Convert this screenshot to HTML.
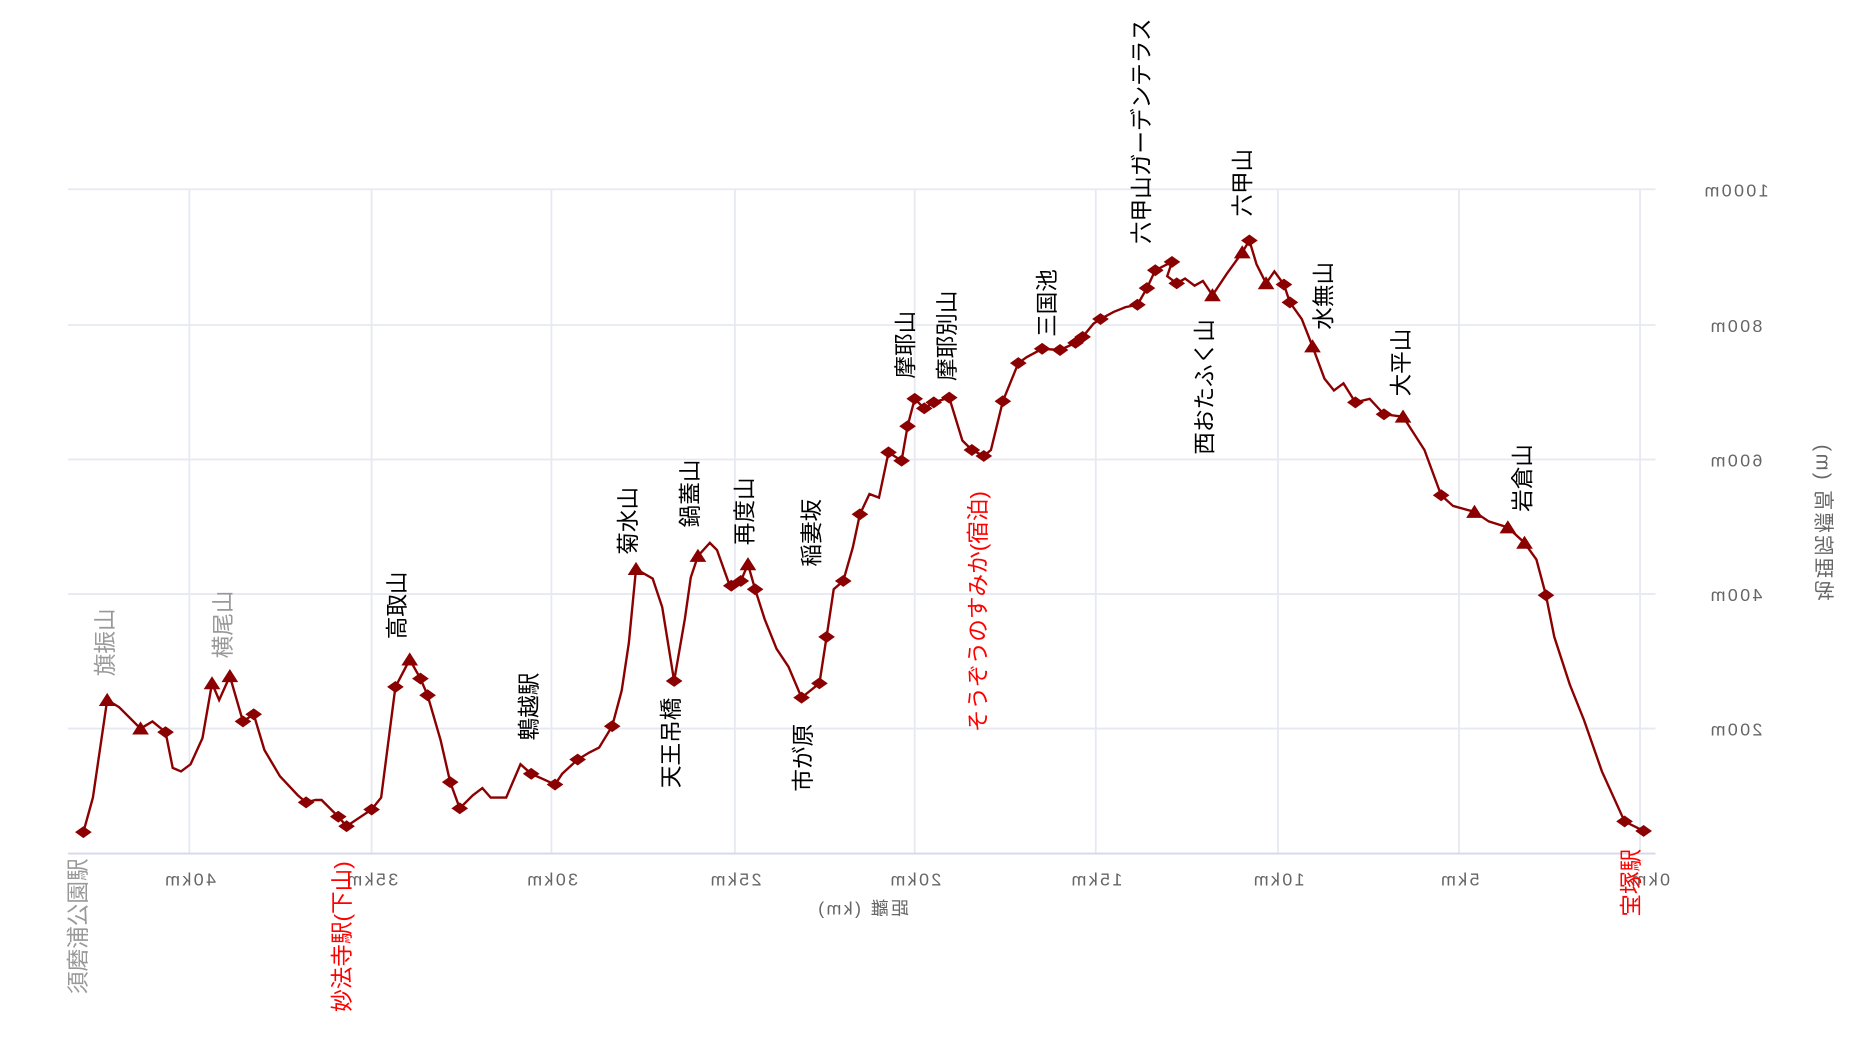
<!DOCTYPE html>
<html><head><meta charset="utf-8"><style>
html,body{margin:0;padding:0;background:#fff;}
svg{display:block;}
text{font-family:"Liberation Sans","Noto Sans CJK JP",sans-serif;}
</style></head><body>
<svg width="1858" height="1050" viewBox="0 0 1560 882" preserveAspectRatio="none" xmlns="http://www.w3.org/2000/svg">
<g stroke="#e6e9f1" stroke-width="1.5">
<line x1="57" y1="159" x2="1390" y2="159"/><line x1="57" y1="273" x2="1390" y2="273"/><line x1="57" y1="386" x2="1390" y2="386"/><line x1="57" y1="499" x2="1390" y2="499"/><line x1="57" y1="612" x2="1390" y2="612"/>
<line x1="159" y1="159" x2="159" y2="717"/><line x1="312" y1="159" x2="312" y2="717"/><line x1="463" y1="159" x2="463" y2="717"/><line x1="617" y1="159" x2="617" y2="717"/><line x1="768" y1="159" x2="768" y2="717"/><line x1="920" y1="159" x2="920" y2="717"/><line x1="1073" y1="159" x2="1073" y2="717"/><line x1="1225" y1="159" x2="1225" y2="717"/><line x1="1377" y1="159" x2="1377" y2="717"/>
</g>
<line x1="57" y1="717" x2="1390" y2="717" stroke="#d3d9e8" stroke-width="1.5"/>
<g fill="#666" font-size="15" letter-spacing="2" text-anchor="middle">
<text transform="translate(159,744) scale(-1,1)">40km</text>
<text transform="translate(312,744) scale(-1,1)">35km</text>
<text transform="translate(463,744) scale(-1,1)">30km</text>
<text transform="translate(617,744) scale(-1,1)">25km</text>
<text transform="translate(768,744) scale(-1,1)">20km</text>
<text transform="translate(920,744) scale(-1,1)">15km</text>
<text transform="translate(1073,744) scale(-1,1)">10km</text>
<text transform="translate(1225,744) scale(-1,1)">5km</text>
<text transform="translate(1385,744) scale(-1,1)">0km</text>
<text transform="translate(1457,165) scale(-1,1)">1000m</text>
<text transform="translate(1457,279) scale(-1,1)">800m</text>
<text transform="translate(1457,392) scale(-1,1)">600m</text>
<text transform="translate(1457,505) scale(-1,1)">400m</text>
<text transform="translate(1457,618) scale(-1,1)">200m</text>
<text transform="translate(724,768) scale(-1,1)">距離 (km)</text>
<text transform="translate(1525,438) scale(-1,1) rotate(-90)" font-size="17">地理院標高 (m)</text>
</g>
<polyline fill="none" stroke="#8b0000" stroke-width="2" points="70,699 78,670 90,588 100,594 118,612 128,606 139,615 145,645 152,648 160,642 170,620 178,574 184,588 193,568 204,606 213,600 222,630 235,652 250,668 257,674 265,672 270,672 284,686 291,694 312,680 320,670 332,577 344,554 353,570 359,584 370,622 378,657 386,679 397,668 405,662 412,670 425,670 437,642 446,650 455,654 466,659 472,650 485,638 495,632 503,628 514,610 522,580 528,540 534,478 548,486 556,510 566,572 575,520 580,485 586,467 596,456 602,462 612,490 614,492 622,488 628,474 634,495 642,520 652,545 662,560 673,586 688,574 694,535 700,495 708,488 716,460 722,432 730,415 738,418 746,380 757,387 762,358 768,335 776,343 784,338 797,334 808,370 816,378 826,383 832,378 842,337 855,305 862,300 875,293 890,294 903,288 909,283 918,272 924,268 935,262 945,258 955,256 963,242 970,227 984,220 980,232 988,238 995,234 1003,240 1010,236 1018,248 1030,230 1043,212 1049,202 1055,222 1063,238 1070,228 1078,239 1083,254 1093,268 1102,291 1112,318 1120,328 1128,322 1138,338 1150,335 1162,348 1178,350 1196,378 1210,416 1220,425 1238,430 1250,438 1266,443 1280,456 1290,470 1298,500 1305,535 1318,575 1330,605 1345,648 1364,690 1380,698"/>
<defs>
<path id="d" d="M-7,0 L0,-5 L7,0 L0,5Z" fill="#8b0000"/>
<path id="t" d="M-7,5 L0,-6 L7,5Z" fill="#8b0000"/>
</defs>
<g>
<use href="#d" x="70" y="699"/><use href="#t" x="90" y="588"/><use href="#t" x="118" y="612"/><use href="#d" x="139" y="615"/><use href="#t" x="178" y="574"/><use href="#t" x="193" y="568"/><use href="#d" x="204" y="606"/><use href="#d" x="213" y="600"/><use href="#d" x="257" y="674"/><use href="#d" x="284" y="686"/><use href="#d" x="291" y="694"/><use href="#d" x="312" y="680"/><use href="#d" x="332" y="577"/><use href="#t" x="344" y="554"/><use href="#d" x="353" y="570"/><use href="#d" x="359" y="584"/><use href="#d" x="378" y="657"/><use href="#d" x="386" y="679"/><use href="#d" x="446" y="650"/><use href="#d" x="466" y="659"/><use href="#d" x="485" y="638"/><use href="#d" x="514" y="610"/><use href="#t" x="534" y="478"/><use href="#d" x="566" y="572"/><use href="#t" x="586" y="467"/><use href="#d" x="614" y="492"/><use href="#d" x="622" y="488"/><use href="#t" x="628" y="474"/><use href="#d" x="634" y="495"/><use href="#d" x="673" y="586"/><use href="#d" x="688" y="574"/><use href="#d" x="694" y="535"/><use href="#d" x="708" y="488"/><use href="#d" x="722" y="432"/><use href="#d" x="746" y="380"/><use href="#d" x="757" y="387"/><use href="#d" x="762" y="358"/><use href="#d" x="768" y="335"/><use href="#d" x="776" y="343"/><use href="#d" x="784" y="338"/><use href="#d" x="797" y="334"/><use href="#d" x="816" y="378"/><use href="#d" x="826" y="383"/><use href="#d" x="842" y="337"/><use href="#d" x="855" y="305"/><use href="#d" x="875" y="293"/><use href="#d" x="890" y="294"/><use href="#d" x="903" y="288"/><use href="#d" x="909" y="283"/><use href="#d" x="924" y="268"/><use href="#d" x="955" y="256"/><use href="#d" x="963" y="242"/><use href="#d" x="970" y="227"/><use href="#d" x="984" y="220"/><use href="#d" x="988" y="238"/><use href="#t" x="1018" y="248"/><use href="#t" x="1043" y="212"/><use href="#d" x="1049" y="202"/><use href="#t" x="1063" y="238"/><use href="#d" x="1078" y="239"/><use href="#d" x="1083" y="254"/><use href="#t" x="1102" y="291"/><use href="#d" x="1138" y="338"/><use href="#d" x="1162" y="348"/><use href="#t" x="1178" y="350"/><use href="#d" x="1210" y="416"/><use href="#t" x="1238" y="430"/><use href="#t" x="1266" y="443"/><use href="#t" x="1280" y="456"/><use href="#d" x="1298" y="500"/><use href="#d" x="1364" y="690"/><use href="#d" x="1380" y="698"/>
</g>
<g font-size="19" fill="#000">
<text fill="#999" transform="translate(72,835) rotate(-90)">須磨浦公園駅</text>
<text fill="#999" transform="translate(95,568) rotate(-90)">旗振山</text>
<text fill="#999" transform="translate(194,553) rotate(-90)">横尾山</text>
<text fill="#f00" transform="translate(294,850) rotate(-90)">妙法寺駅(下山)</text>
<text transform="translate(340,537) rotate(-90)">高取山</text>
<text transform="translate(451,622) rotate(-90)">鵯越駅</text>
<text transform="translate(570,662) rotate(-90)">天王吊橋</text>
<text transform="translate(534,466) rotate(-90)">菊水山</text>
<text transform="translate(586,443) rotate(-90)">鍋蓋山</text>
<text transform="translate(632,458) rotate(-90)">再度山</text>
<text transform="translate(688,476) rotate(-90)">稲妻坂</text>
<text transform="translate(681,665) rotate(-90)">市が原</text>
<text transform="translate(767,318) rotate(-90)">摩耶山</text>
<text transform="translate(802,320) rotate(-90)">摩耶別山</text>
<text fill="#f00" transform="translate(828,615) rotate(-90)">そうぞうのすみか(宿泊)</text>
<text transform="translate(886,283) rotate(-90)">三国池</text>
<text transform="translate(965,205) rotate(-90)">六甲山ガーデンテラス</text>
<text transform="translate(1018,382) rotate(-90)">西おたふく山</text>
<text transform="translate(1050,182) rotate(-90)">六甲山</text>
<text transform="translate(1118,277) rotate(-90)">水無山</text>
<text transform="translate(1183,333) rotate(-90)">大平山</text>
<text transform="translate(1285,430) rotate(-90)">岩倉山</text>
<text fill="#f00" transform="translate(1376,770) rotate(-90)">宝塚駅</text>
</g>
</svg>
</body></html>
